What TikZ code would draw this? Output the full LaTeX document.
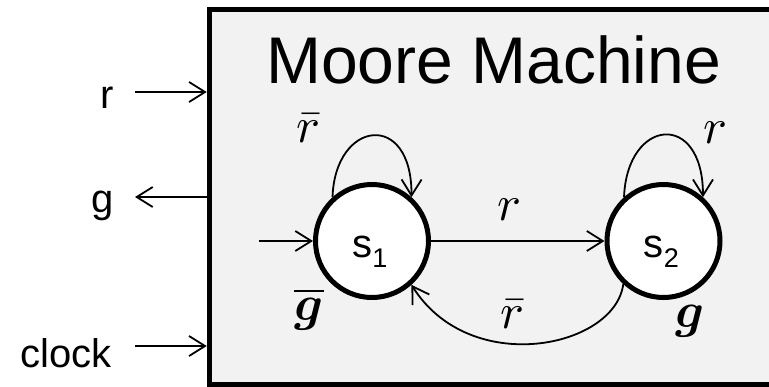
\documentclass[tikz,border=0pt]{standalone}
\usepackage{fontspec}
\setmainfont{Liberation Sans}
\usepackage{amsmath,bm}
\usetikzlibrary{arrows.meta}
\definecolor{boxgray}{HTML}{F2F2F2}
\tikzset{
  conn/.style={line width=1.8pt, -{Straight Barb[length=16pt,width=20pt]}},
  state/.style={circle, draw, line width=5pt, fill=white, minimum size=113pt, inner sep=0pt},
  mathlbl/.style={scale=5, inner sep=0pt},
  sans/.style={font=\fontsize{40}{40}\selectfont, inner sep=0pt},
  frame/.style={line width=5.5pt},
}
\begin{document}
\begin{tikzpicture}[x=1pt,y=-1pt]
\fill[white] (0,0) rectangle (769,386);
\useasboundingbox (0,0) rectangle (769,386);
% machine box (right side runs off the picture)
\fill[boxgray] (209.5,9.5) rectangle (769,384);
\draw[frame] (769,9.5) -- (209.5,9.5) -- (209.5,385) -- (769,385);
\coordinate (boxw) at (206.75,0);
\node[anchor=base, inner sep=0pt, font=\fontsize{66}{66}\selectfont] (title) at (493.5,83) {Moore Machine};
% states
\node[state] (s1) at (372,241) {};
\node[state] (s2) at (663.5,241) {};
\node[sans, anchor=base] (s1t) at (370,257) {s\raisebox{-10pt}{\fontsize{27}{27}\selectfont 1}};
\node[sans, anchor=base] (s2t) at (661.5,257) {s\raisebox{-10pt}{\fontsize{27}{27}\selectfont 2}};
% transitions
\coordinate (init) at (259,241);
\draw[conn] (init) -- (s1);
\draw[conn] (s1) -- (s2);
\draw[conn] (s1.132) .. controls (335,120) and (412,110) .. (s1.48);
\draw[conn] (s2.132) .. controls (627,118) and (703,110) .. (s2.48);
\draw[conn] (s2.-133) .. controls (615,348) and (470,378) .. (s1.-48);
% labels
\node[mathlbl, anchor=base] (lr) at (509,220) {$r$};
\node[mathlbl, anchor=base] (l1) at (308,142) {$\bar r$};
\node[mathlbl, anchor=base] (l2) at (715,143) {$r$};
\node[mathlbl, anchor=base] (l3) at (512,328) {$\bar r$};
\node[mathlbl, anchor=base] (o1) at (309,320) {$\overline{\bm g}$};
\node[mathlbl, anchor=base] (o2) at (690,327) {$\bm g$};
% ports
\node[sans, anchor=base east] (rl) at (114,108) {r};
\node[sans, anchor=base east] (gl) at (114,212) {g};
\node[sans, anchor=base east] (cl) at (112,367) {clock};
\coordinate (rin) at (135,92);
\coordinate (gout) at (135,197);
\coordinate (clk) at (135,346);
\draw[conn] (rin) -- (rin -| boxw);
\draw[conn] (gout -| boxw) -- (gout);
\draw[conn] (clk) -- (clk -| boxw);
\end{tikzpicture}
\end{document}
